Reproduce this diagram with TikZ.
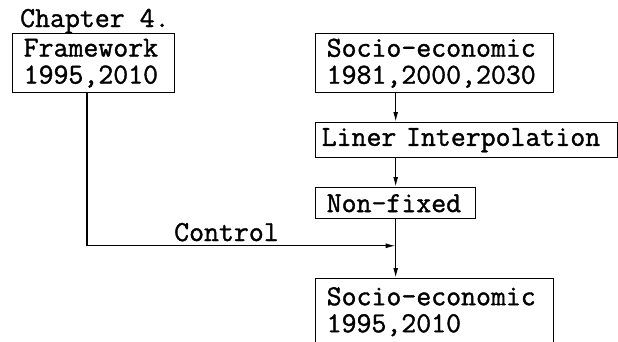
\documentclass[tikz,border=0pt]{standalone}
\usepackage{fontspec}
\newfontfamily\typew{Latin Modern Mono}[FakeBold=1.3]
\newcommand\nobreakhyph{\hyphenpenalty=10000\relax\exhyphenpenalty=10000\relax}
\usetikzlibrary{arrows.meta,calc}
\tikzset{
  txt/.style={font=\fontsize{29}{27}\selectfont\typew\nobreakhyph, inner sep=0pt},
  box/.style={txt, draw, line width=1.4pt, anchor=north west, align=left, inner ysep=0pt},
  arr/.style={line width=1.4pt, -{Latex[length=10pt,width=5pt]}},
}
\begin{document}
\begin{tikzpicture}[x=1pt, y=-1pt]
\useasboundingbox (0,0) rectangle (618,341);
\clip (0,0) rectangle (618,341);

% heading
\node[txt, anchor=base west] (chap) at (20,27) {Chapter 4.};

% boxes
\node[box, text width=140pt, inner xsep=11pt, minimum height=59pt] (frame) at (12,33)
  {Framework\\1995,2010};
\node[box, text width=216pt, inner xsep=11pt, minimum height=59pt] (topsocio) at (315,33)
  {Socio-economic\\1981,2000,2030};
\node[box, text width=290pt, inner xsep=6pt, minimum height=35pt] (liner) at (315,122)
  {Liner Interpolation};
\node[box, text width=138pt, inner xsep=11pt, minimum height=31pt] (nonfixed) at (315,187)
  {Non-fixed};
\node[box, text width=216pt, inner xsep=11pt, minimum height=66pt] (result) at (315,278)
  {Socio-economic\\1995,2010};

% flow
\draw[arr] (topsocio.south -| nonfixed) -- (liner.north -| nonfixed);
\draw[arr] (liner.south -| nonfixed) -- (nonfixed.north);
\draw[arr] (nonfixed.south) -- (result.north -| nonfixed);

% control link
\coordinate (join) at ($(nonfixed.south)!0.45!(result.north -| nonfixed)$);
\draw[arr] ([xshift=75pt]frame.south west) |- (join);
\node[txt, anchor=base west] (ctl) at (174,241) {Control};
\end{tikzpicture}
\end{document}
